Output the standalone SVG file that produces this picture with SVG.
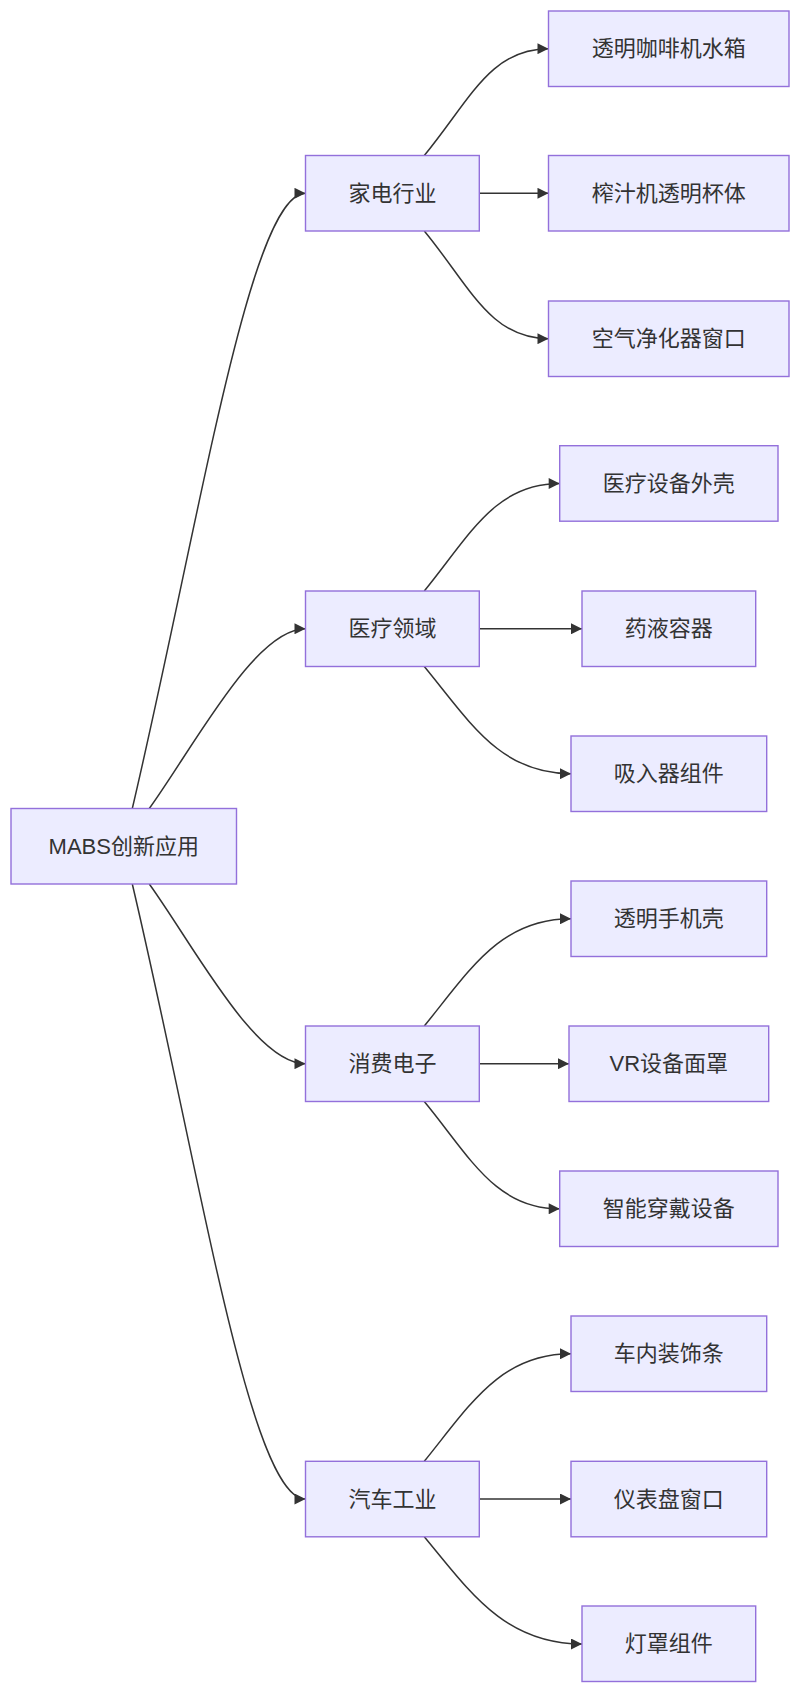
<svg xmlns="http://www.w3.org/2000/svg" width="800" height="1693" viewBox="0 0 800 1693">
<style>
.node rect{fill:#ECECFF;stroke:#9370DB;stroke-width:1.4}
.node text{font-family:"Liberation Sans","Noto Sans CJK SC",sans-serif;font-size:22px;fill:#333;text-anchor:middle;dominant-baseline:central}
.edges path{fill:none;stroke:#333;stroke-width:1.5}
</style>
<defs>
<marker id="arr" viewBox="0 0 10 10" refX="10" refY="5" markerWidth="11.5" markerHeight="11" markerUnits="userSpaceOnUse" orient="auto">
<path d="M0,0 L10,5 L0,10 z" fill="#333"/>
</marker>
</defs>
<rect width="800" height="1693" fill="#fff"/>
<g class="edges">
<path marker-end="url(#arr)" d="M132.3,808.5 C200,520 250,193.3 305.5,193.3"/>
<path marker-end="url(#arr)" d="M149.3,808.5 C195,745 255,628.8 305.5,628.8"/>
<path marker-end="url(#arr)" d="M149.3,884 C195,947.5 255,1063.7 305.5,1063.7"/>
<path marker-end="url(#arr)" d="M132.3,884 C200,1172 250,1499 305.5,1499"/>

<path marker-end="url(#arr)" d="M424.3,155.5 C470,100 490,48.7 548.5,48.7"/>
<path marker-end="url(#arr)" d="M479.3,193.3 L548.5,193.3"/>
<path marker-end="url(#arr)" d="M424.3,231 C470,286.5 490,338.7 548.5,338.7"/>

<path marker-end="url(#arr)" d="M424.3,591 C470,535 495,483.5 559.7,483.5"/>
<path marker-end="url(#arr)" d="M479.3,628.8 L582,628.8"/>
<path marker-end="url(#arr)" d="M424.3,666.5 C470,722 500,773.7 571,773.7"/>

<path marker-end="url(#arr)" d="M424.3,1026 C470,970 500,918.8 571,918.8"/>
<path marker-end="url(#arr)" d="M479.3,1063.7 L569,1063.7"/>
<path marker-end="url(#arr)" d="M424.3,1101.5 C470,1157 495,1208.8 559.7,1208.8"/>

<path marker-end="url(#arr)" d="M424.3,1461.3 C470,1405 500,1353.8 571,1353.8"/>
<path marker-end="url(#arr)" d="M479.3,1499 L571,1499"/>
<path marker-end="url(#arr)" d="M424.3,1536.7 C470,1592 505,1644 582,1644"/>
</g>

<g id="root" class="node"><rect x="11" y="808.5" width="225.5" height="75.5"/><text x="123.8" y="846.3">MABS创新应用</text></g>

<g id="jiadian" class="node"><rect x="305.5" y="155.5" width="173.8" height="75.5"/><text x="392.4" y="193.3">家电行业</text></g>
<g id="yiliao" class="node"><rect x="305.5" y="591" width="173.8" height="75.5"/><text x="392.4" y="628.8">医疗领域</text></g>
<g id="xiaofei" class="node"><rect x="305.5" y="1026" width="173.8" height="75.5"/><text x="392.4" y="1063.7">消费电子</text></g>
<g id="qiche" class="node"><rect x="305.5" y="1461.3" width="173.8" height="75.5"/><text x="392.4" y="1499">汽车工业</text></g>

<g id="a1" class="node"><rect x="548.5" y="11" width="240.5" height="75.5"/><text x="668.8" y="48.7">透明咖啡机水箱</text></g>
<g id="a2" class="node"><rect x="548.5" y="155.5" width="240.5" height="75.5"/><text x="668.8" y="193.3">榨汁机透明杯体</text></g>
<g id="a3" class="node"><rect x="548.5" y="301" width="240.5" height="75.5"/><text x="668.8" y="338.7">空气净化器窗口</text></g>

<g id="b1" class="node"><rect x="559.7" y="445.7" width="218.3" height="75.5"/><text x="668.8" y="483.5">医疗设备外壳</text></g>
<g id="b2" class="node"><rect x="582" y="591" width="173.7" height="75.5"/><text x="668.8" y="628.8">药液容器</text></g>
<g id="b3" class="node"><rect x="571" y="736" width="195.7" height="75.5"/><text x="668.8" y="773.7">吸入器组件</text></g>

<g id="c1" class="node"><rect x="571" y="881" width="195.7" height="75.5"/><text x="668.8" y="918.8">透明手机壳</text></g>
<g id="c2" class="node"><rect x="569" y="1026" width="199.7" height="75.5"/><text x="668.8" y="1063.7">VR设备面罩</text></g>
<g id="c3" class="node"><rect x="559.7" y="1171" width="218.3" height="75.5"/><text x="668.8" y="1208.8">智能穿戴设备</text></g>

<g id="d1" class="node"><rect x="571" y="1316" width="195.7" height="75.5"/><text x="668.8" y="1353.8">车内装饰条</text></g>
<g id="d2" class="node"><rect x="571" y="1461.3" width="195.7" height="75.5"/><text x="668.8" y="1499">仪表盘窗口</text></g>
<g id="d3" class="node"><rect x="582" y="1606" width="173.7" height="75.5"/><text x="668.8" y="1643.8">灯罩组件</text></g>
</svg>
